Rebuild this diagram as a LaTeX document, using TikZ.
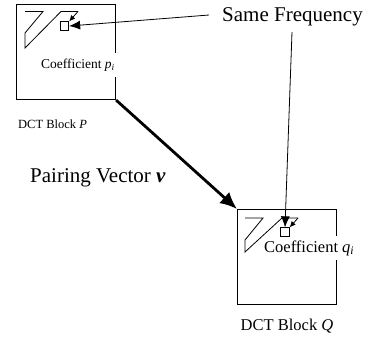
\documentclass[tikz,border=0pt]{standalone}
\usepackage{fontspec}
\setmainfont{Liberation Serif}
\usetikzlibrary{arrows.meta}
\begin{document}
\begin{tikzpicture}[x=1pt,y=-1pt,
  blk/.style={draw,line width=1.1pt,minimum width=99pt,minimum height=95pt,inner sep=0pt,anchor=north west},
  thinln/.style={line width=0.8pt},
  sq/.style={draw,line width=0.8pt,minimum size=8.5pt,inner sep=0pt},
  bigarr/.style={line width=0.8pt,-{Latex[length=11pt,width=9pt]}},
  smallarr/.style={line width=0.8pt,-{Latex[length=6pt,width=5.5pt]}},
  thickarr/.style={line width=2.8pt,-{Latex[length=17pt,width=15pt]}},
  lbl/.style={font=\fontsize{21}{25}\selectfont,inner sep=0pt},
  coefP/.style={fill=white,inner xsep=5pt,inner ysep=6pt,font=\fontsize{13.5}{15}\selectfont},
  coefQ/.style={fill=white,inner xsep=1pt,inner ysep=4pt,font=\fontsize{16.5}{19}\selectfont},
  capP/.style={font=\fontsize{12.5}{15}\selectfont,inner sep=0pt},
  capQ/.style={font=\fontsize{16.5}{19}\selectfont,inner sep=0pt}]
\useasboundingbox (0,0) rectangle (372,343);
% Block P
\node[blk] (P) at (16,4) {};
\node[coefP] (Pc) at (78,65) {Coefficient \textit{p}\textsubscript{\textit{i}}};
\begin{scope}[shift={(16,4)}]
  \draw[thinln] (9,7.5) -- (27,7.5) -- (9,29) -- (9,44) -- (45,7.5) -- (62,7.5);
  \node[sq] (Ps) at (48.5,22) {};
  \coordinate (Pa) at (62,7.5);
\end{scope}
\draw[smallarr] (Pa) -- (Ps.north east);
\node[capP,anchor=west] (Pcap) at (18,124) {DCT Block \textit{P}};
% Block Q
\node[blk] (Q) at (237,209) {};
\node[coefQ,anchor=west] (Qc) at (263,248) {Coefficient \textit{q}\textsubscript{\textit{i}}};
\begin{scope}[shift={(237,209)}]
  \draw[thinln] (8,9) -- (26,9) -- (8,31) -- (8,43) -- (45,9) -- (61,9);
  \node[sq] (Qs) at (48,23) {};
  \coordinate (Qa) at (61,9);
\end{scope}
\draw[smallarr] (Qa) -- (Qs.north east);
\node[capQ] (Qcap) at (287,326) {DCT Block \textit{Q}};
% Labels
\node[lbl,anchor=west] (sf) at (222,17) {Same Frequency};
\node[lbl,anchor=west] (pv) at (30,178) {Pairing Vector \textbf{\textit{v}}};
\coordinate (sf1) at (209,15);
\coordinate (sf2) at (292,32);
\draw[bigarr] (sf1) -- (Ps.east);
\draw[bigarr] (sf2) -- (Qs.north);
\draw[thickarr] (P.south east) -- (Q.north west);
\end{tikzpicture}
\end{document}
